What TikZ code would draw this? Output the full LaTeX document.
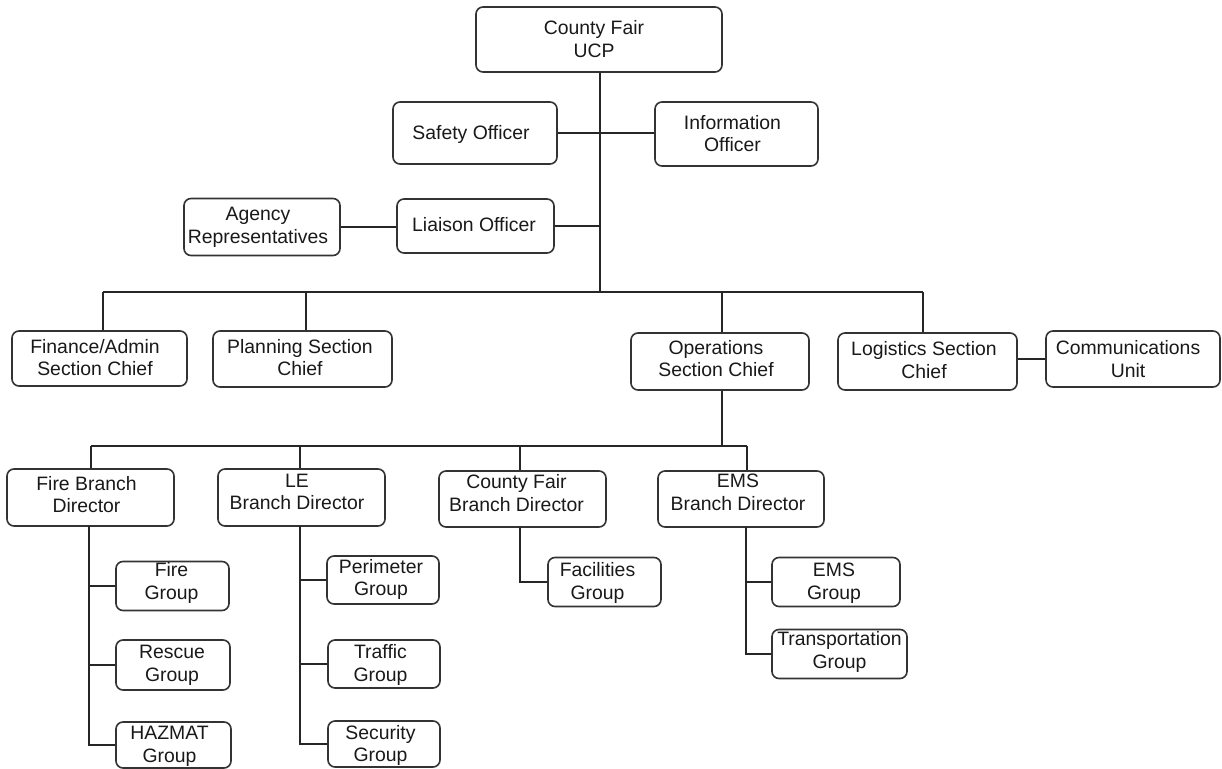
\documentclass[tikz,border=0pt]{standalone}
\usepackage{fontspec}
\setmainfont{Liberation Sans}
\begin{document}
\begin{tikzpicture}[x=1pt,y=-1pt,
  orgbox/.style={draw=black!80, line width=1.6pt, rounded corners=7pt, fill=white, inner sep=0pt},
  orglabel/.style={align=center, inner sep=0pt, text=black!90,
    font=\fontsize{19.4}{22.5}\selectfont},
  link/.style={draw=black!85, line width=1.6pt}]
% box: name, centre x, centre y, width, height, label dx, label dy, label
\newcommand\orgunit[8]{%
  \node[orgbox, minimum width=#4, minimum height=#5] (#1) at (#2,#3) {};
  \node[orglabel] (#1-t) at ([shift={(#6,#7)}]#1.center) {\strut #8\strut};}
\useasboundingbox (0,0) rectangle (1222,768);
\fill[white] (0,0) rectangle (1222,768);

% command staff
\orgunit{ucp}{599}{39.5}{246}{65}{-5}{2}{County Fair\\UCP}
\orgunit{safety}{475}{133}{164}{62}{-4}{2}{Safety Officer}
\orgunit{info}{736.5}{134}{163}{64}{-4}{2}{Information\\Officer}
\orgunit{liaison}{475.5}{226}{157}{54}{-1.5}{1}{Liaison Officer}
\orgunit{agency}{262}{227}{156}{57}{-4}{0.5}{Agency\\Representatives}

% general staff
\orgunit{finance}{99.5}{358.5}{175}{55}{-4.5}{1.5}{Finance/Admin\\Section Chief}
\orgunit{planning}{302.5}{359}{179}{56}{-2.5}{1}{Planning Section\\Chief}
\orgunit{ops}{720}{361.5}{178}{57}{-4}{-0.5}{Operations\\Section Chief}
\orgunit{logistics}{927.5}{361.5}{179}{57}{-3.5}{1}{Logistics Section\\Chief}
\orgunit{comms}{1133}{359}{174}{56}{-5}{2.5}{Communications\\Unit}

% branches
\orgunit{fireb}{90.5}{497.5}{167}{57}{-4}{-0.5}{Fire Branch\\Director}
\orgunit{leb}{301.5}{497.5}{167}{57}{-4.5}{-3.5}{LE\\Branch Director}
\orgunit{cfb}{522.5}{499}{167}{56}{-6}{-3.5}{County Fair\\Branch Director}
\orgunit{emsb}{741}{499}{166}{56}{-3}{-4.5}{EMS\\Branch Director}

% groups
\orgunit{fireg}{172.5}{586}{113}{49}{-1}{-2.5}{Fire\\Group}
\orgunit{rescue}{173}{665}{114}{50}{-1}{0.5}{Rescue\\Group}
\orgunit{hazmat}{173.5}{745}{115}{46}{-4}{1.5}{HAZMAT\\Group}
\orgunit{perim}{383}{580}{112}{48}{-2}{0}{Perimeter\\Group}
\orgunit{traffic}{384}{664}{112}{48}{-3.5}{1.5}{Traffic\\Group}
\orgunit{security}{384}{744}{112}{46}{-3.5}{2}{Security\\Group}
\orgunit{facil}{604.5}{582}{113}{49}{-7}{1.5}{Facilities\\Group}
\orgunit{emsg}{836}{582}{128}{49}{-2}{1.5}{EMS\\Group}
\orgunit{transp}{839.5}{654}{135}{49}{0}{-1.5}{Transportation\\Group}

% trunk and staff links
\coordinate (trunk) at (600,292);
\draw[link] (ucp.south -| trunk) -- (trunk);
\draw[link] (safety.east) -- (safety.east -| info.west);
\draw[link] (liaison.east) -- (liaison.east -| trunk);
\draw[link] (agency.east) -- (agency.east -| liaison.west);

% general staff bus
\coordinate (busF) at (103,292);
\coordinate (busP) at (306,292);
\coordinate (busO) at (722,292);
\coordinate (busL) at (923,292);
\draw[link] (busF) -- (busL);
\draw[link] (busF) -- (busF |- finance.north);
\draw[link] (busP) -- (busP |- planning.north);
\draw[link] (busO) -- (busO |- ops.north);
\draw[link] (busL) -- (busL |- logistics.north);
\draw[link] (comms.west -| logistics.east) -- (comms.west);

% operations branch bus
\coordinate (lowF) at (91,446);
\coordinate (lowL) at (300,446);
\coordinate (lowC) at (520,446);
\coordinate (lowE) at (747,446);
\draw[link] (busO |- ops.south) -- (busO |- lowE);
\draw[link] (lowF) -- (lowE);
\draw[link] (lowF) -- (lowF |- fireb.north);
\draw[link] (lowL) -- (lowL |- leb.north);
\draw[link] (lowC) -- (lowC |- cfb.north);
\draw[link] (lowE) -- (lowE |- emsb.north);

% group links
\coordinate (fx) at (89,526);
\draw[link] (fx) |- (fireg.west);
\draw[link] (fx) |- (rescue.west);
\draw[link] (fx) |- (hazmat.west);
\coordinate (lx) at (300,526);
\draw[link] (lx) |- (perim.west);
\draw[link] (lx) |- (traffic.west);
\draw[link] (lx) |- (security.west);
\coordinate (cx) at (520,527);
\draw[link] (cx) |- (facil.west);
\coordinate (ex) at (746,527);
\draw[link] (ex) |- (emsg.west);
\draw[link] (ex) |- (transp.west);
\end{tikzpicture}
\end{document}
